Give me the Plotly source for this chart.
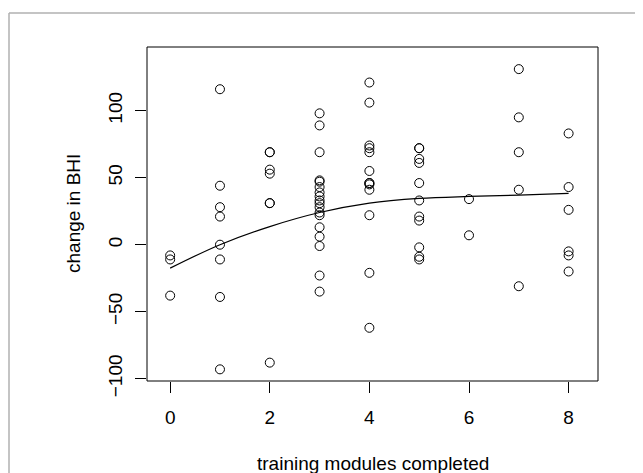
import plotly.graph_objects as go

# modules completed -> observed change in BHI
modules = [0, 1, 2, 3, 4, 5, 6, 7, 8]
bhi_0 = [-8, -11, -38]
bhi_1 = [116, 44, 28, 21, 0, -11, -39, -93]
bhi_2 = [69, 69, 56, 53, 31, 31, -88]
bhi_3 = [98, 89, 69, 48, 47, 43, 39, 36, 33, 31, 28, 24, 22, 13, 6, -1, -23, -35]
bhi_4 = [121, 106, 74, 72, 69, 55, 46, 46, 45, 41, 22, -21, -62]
bhi_5 = [72, 72, 64, 61, 46, 33, 21, 18, -2, -9, -11]
bhi_6 = [34, 7]
bhi_7 = [131, 95, 69, 41, -31]
bhi_8 = [83, 43, 26, -5, -8, -20]

# smoothed trend
curve_x = [0, 1, 2, 3, 4, 5, 6, 7, 8]
curve_y = [-17.5, 0, 13.5, 24, 31, 34.5, 36, 37, 38.3]

x_ticks = [0, 2, 4, 6, 8]
y_ticks = [-100, -50, 0, 50, 100]
x_title = "training modules completed"
y_title = "change in BHI"

groups = [bhi_0, bhi_1, bhi_2, bhi_3, bhi_4, bhi_5, bhi_6, bhi_7, bhi_8]
xs, ys = [], []
for m, vals in zip(modules, groups):
    for v in vals:
        xs.append(m)
        ys.append(v)

FONT = "Liberation Sans, Arial, Helvetica, sans-serif"
FS = 19

fig = go.Figure()
fig.add_trace(go.Scatter(
    x=xs, y=ys, mode="markers",
    marker=dict(symbol="circle-open", size=9, color="black", line=dict(width=1, color="black")),
    showlegend=False, hoverinfo="skip"))
fig.add_trace(go.Scatter(
    x=curve_x, y=curve_y, mode="lines",
    line=dict(color="black", width=1.2, shape="spline"),
    showlegend=False, hoverinfo="skip"))

W, H = 635, 465
L, T, R, B = 139, 39, 45, 92
pw, ph = W - L - R, H - T - B

fig.update_layout(
    width=W, height=H,
    margin=dict(l=L, r=R, t=T, b=B, autoexpand=False),
    paper_bgcolor="white", plot_bgcolor="white",
    font=dict(family=FONT, size=FS, color="black"),
    xaxis=dict(range=[-0.465, 8.59], tickvals=x_ticks, ticks="outside", ticklen=11,
               tickwidth=1, tickcolor="black", showgrid=False, zeroline=False,
               showline=False, tickfont=dict(size=FS), ticklabelstandoff=8,
               automargin=False),
    yaxis=dict(range=[-101.7, 147.5], tickvals=y_ticks, ticks="outside", ticklen=11,
               tickwidth=1, tickcolor="black", showgrid=False, zeroline=False,
               showline=False, tickangle=-90, tickfont=dict(size=FS), ticklabelstandoff=5,
               automargin=False),
    annotations=[
        dict(text=x_title, xref="paper", yref="paper", x=0.5, y=(373 - 455) / ph,
             xanchor="center", yanchor="middle", showarrow=False, font=dict(size=FS)),
        dict(text=y_title, xref="paper", yref="paper", x=(65 - L) / pw, y=0.5,
             xanchor="center", yanchor="middle", textangle=-90, showarrow=False,
             font=dict(size=FS)),
    ],
    shapes=[
        dict(type="rect", xref="paper", yref="paper", x0=0, x1=1, y0=0, y1=1,
             line=dict(color="black", width=1)),
        dict(type="line", xref="paper", yref="paper",
             x0=(1 - L) / pw, x1=1.3, y0=(H - B - 5) / ph, y1=(H - B - 5) / ph,
             line=dict(color="#b0b0b0", width=1.5)),
        dict(type="line", xref="paper", yref="paper",
             x0=(1 - L) / pw, x1=(1 - L) / pw, y0=(H - B - 5) / ph, y1=-0.5,
             line=dict(color="#b0b0b0", width=1.5)),
    ],
)

fig.write_html("out.html")
